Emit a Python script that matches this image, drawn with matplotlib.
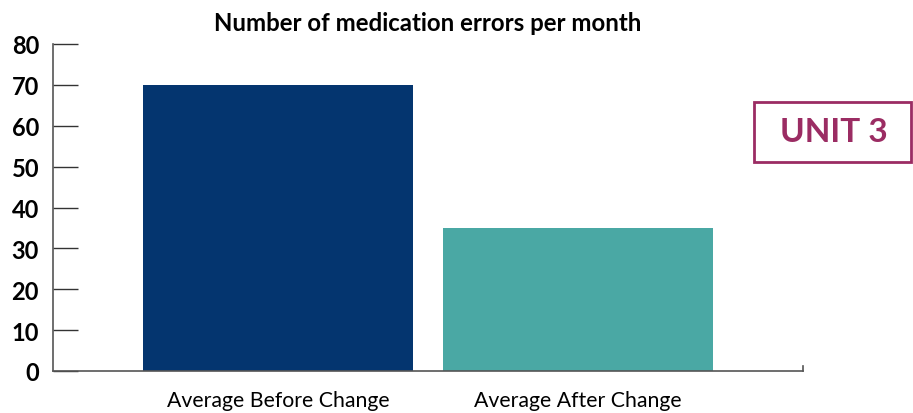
import matplotlib.pyplot as plt
from matplotlib.patches import Rectangle

plt.rcParams['font.family'] = ['Lato', 'DejaVu Sans']

categories = ["Average Before Change", "Average After Change"]
values = [70, 35]
colors = ["#04356f", "#4aa8a4"]
yticks = [0, 10, 20, 30, 40, 50, 60, 70, 80]

fig = plt.figure(figsize=(9.13, 4.14), dpi=100)
ax = fig.add_axes([53 / 913, 1 - 372 / 414, 750 / 913, 327 / 414])

x = range(len(categories))
ax.bar(x, values, width=0.9, color=colors)
ax.set_xlim(-0.75, 1.75)
ax.set_ylim(0, 80)

for s in ["top", "right"]:
    ax.spines[s].set_visible(False)
for s in ["left", "bottom"]:
    ax.spines[s].set_color("#555555")
    ax.spines[s].set_linewidth(1.2)

ax.set_yticks(yticks)
ax.set_yticklabels([str(t) for t in yticks], fontsize=17, fontweight="bold")
ax.tick_params(axis="y", direction="in", length=18, width=1, color="#333333", pad=10)
ax.set_xticks(list(x))
ax.set_xticklabels(categories, fontsize=15.3)
ax.tick_params(axis="x", length=0, pad=14)
# small end tick on the right of the x axis
ax.plot([1.75, 1.75], [0, 1.2], color="#555555", lw=1.2, clip_on=False)

ax.set_title("Number of medication errors per month", fontsize=17.3, fontweight="bold", pad=10)

fig.patches.append(Rectangle((754 / 913, 1 - 163 / 414), 157 / 913, 60 / 414,
                             transform=fig.transFigure, fill=False,
                             edgecolor="#9b2c63", linewidth=2))
fig.text(834 / 913, 1 - 133 / 414, "UNIT 3", color="#9b2c63", fontsize=24,
         fontweight="bold", ha="center", va="center")

fig.savefig("out.png", dpi=100)
